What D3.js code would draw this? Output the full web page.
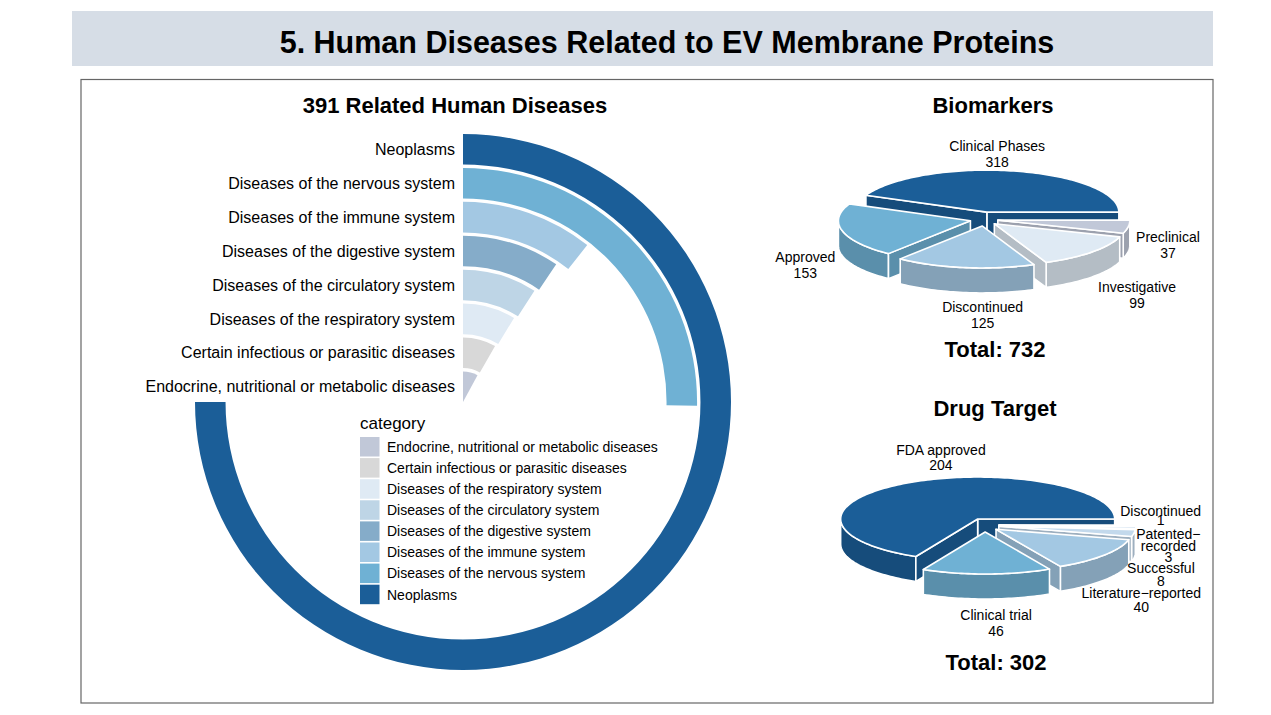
<!DOCTYPE html>
<html>
<head>
<meta charset="utf-8">
<script src="https://cdn.jsdelivr.net/npm/d3@7"></script>
<style>
  body { margin: 0; background: #fff; }
  svg text { font-family: "Liberation Sans", Arial, sans-serif; fill: #000; }
</style>
</head>
<body>
<svg id="chart" width="1271" height="715"></svg>
<script>
// disease categories, innermost ring first
const diseaseCategories = [
  'Endocrine, nutritional or metabolic diseases',
  'Certain infectious or parasitic diseases',
  'Diseases of the respiratory system',
  'Diseases of the circulatory system',
  'Diseases of the digestive system',
  'Diseases of the immune system',
  'Diseases of the nervous system',
  'Neoplasms',
];
const diseaseCounts = [20, 21, 22, 23, 24, 27, 64, 190];
const diseaseColors = ['#c1c8d8', '#d8d8d8', '#dfeaf4', '#bed5e6', '#85acc9', '#a3c8e3', '#6fb1d4', '#1b5e98'];

const biomarkerLabels = ['Clinical Phases', 'Approved', 'Discontinued', 'Investigative', 'Preclinical'];
const biomarkerValues = [318, 153, 125, 99, 37];
const biomarkerColors = ['#1b5e98', '#6fb1d4', '#a3c8e3', '#dfeaf4', '#c1c8d8'];

const drugLabels = ['FDA approved', 'Clinical trial', 'Literature\u2212reported', 'Successful', 'Patented\u2212\nrecorded', 'Discontinued'];
const drugValues = [204, 46, 40, 8, 3, 1];
const drugColors = ['#1b5e98', '#6fb1d4', '#a3c8e3', '#c3d9ec', '#dfeaf4', '#b3d2ec'];

// label tweaks: [dx, dy, line gap]
const biomarkerNudge = [[-26, 5, 15.5], [7, 4, 16], [24, 0, 16], [12, 3, 16], [-5, -10, 16]];
const drugNudge = [[60, -7, 15], [9, 2, 16], [0, 6, 14], [-20, 13, 13], [-15, -8, 11.5], [-23, -35, 9]];

const svg = d3.select('#chart');

// header banner + panel
svg.append('rect')
  .attr('x', 72).attr('y', 11)
  .attr('width', 1141).attr('height', 55)
  .attr('fill', '#d6dde6');
svg.append('text')
  .attr('x', 667).attr('y', 53)
  .attr('text-anchor', 'middle')
  .style('font-size', '30.5px').style('font-weight', 'bold')
  .text('5. Human Diseases Related to EV Membrane Proteins');
svg.append('rect')
  .attr('x', 81).attr('y', 79.5)
  .attr('width', 1132).attr('height', 623.5)
  .attr('fill', 'none')
  .attr('stroke', '#666')
  .attr('stroke-width', 1.2);

const title = (x, y, txt) => svg.append('text')
  .attr('x', x).attr('y', y)
  .attr('text-anchor', 'middle')
  .style('font-size', '22px').style('font-weight', 'bold')
  .text(txt);

// ---- radial bar chart ----
const rc = { cx: 463, cy: 402, r: 268 };
const diseases = diseaseCategories.map((c, i) => ({ cat: c, value: diseaseCounts[i], color: diseaseColors[i] }));

title(455, 113, `${d3.sum(diseaseCounts)} Related Human Diseases`);

const ring = d3.scaleBand()
  .domain(diseaseCategories)
  .range([0, rc.r])
  .paddingInner(0.1);
const angle = d3.scaleLinear()
  .domain([0, d3.max(diseaseCounts) * 4 / 3])
  .range([0, 2 * Math.PI]);

const arc = d3.arc()
  .innerRadius(d => ring(d.cat))
  .outerRadius(d => ring(d.cat) + ring.bandwidth())
  .startAngle(0)
  .endAngle(d => angle(d.value));

const radial = svg.append('g')
  .attr('transform', `translate(${rc.cx},${rc.cy})`);

radial.selectAll('path')
  .data(diseases)
  .enter()
  .append('path')
  .attr('d', arc)
  .attr('fill', d => d.color);

radial.selectAll('text')
  .data(diseases)
  .enter()
  .append('text')
  .attr('x', -8)
  .attr('y', d => -(ring(d.cat) + ring.bandwidth() / 2))
  .attr('dy', '0.35em')
  .attr('text-anchor', 'end')
  .style('font-size', '16px')
  .text(d => d.cat);

// legend
const legend = svg.append('g').attr('transform', 'translate(360,437)');
legend.append('text')
  .attr('x', 0).attr('y', -8)
  .style('font-size', '17px')
  .text('category');
const row = legend.selectAll('g.row')
  .data(diseases)
  .enter()
  .append('g')
  .attr('class', 'row')
  .attr('transform', (d, i) => `translate(0,${i * 21.1})`);
row.append('rect')
  .attr('width', 19.5).attr('height', 19.5)
  .attr('fill', d => d.color);
row.append('text')
  .attr('x', 27).attr('y', 10)
  .attr('dy', '0.35em')
  .style('font-size', '14px')
  .text(d => d.cat);

// ---- 3D pies ----
const pie3d = (labels, values, colors, nudge, o) => {
  const g = svg.append('g');
  const slices = d3.pie().sort(null)(values);
  slices.forEach((s, i) => {
    s.mid = (s.startAngle + s.endAngle) / 2;
    s.ox = o.ex * Math.cos(s.mid);
    s.oy = -o.ey * Math.sin(s.mid);
    s.color = colors[i];
    s.side = d3.color(colors[i]).darker(0.6).formatHex();
    s.i = i;
  });

  const pt = (s, t, r, drop) => [
    o.cx + s.ox + r * o.rx * Math.cos(t),
    o.cy + s.oy - r * o.ry * Math.sin(t) + drop,
  ];
  const arcPts = (s, a0, a1, drop) => {
    const n = Math.max(2, Math.ceil(Math.abs(a1 - a0) * 40));
    return d3.range(n + 1).map(k => pt(s, a0 + (a1 - a0) * k / n, 1, drop));
  };
  const line = d3.line().curve(d3.curveLinearClosed);
  const face = (pts, fill) => g.append('path')
    .attr('d', line(pts))
    .attr('fill', fill)
    .attr('stroke', '#fff')
    .attr('stroke-width', 1.6)
    .attr('stroke-linejoin', 'round');

  // back slices first
  slices.slice()
    .sort((a, b) => Math.sin(b.mid) - Math.sin(a.mid))
    .forEach(s => {
      const a0 = Math.max(s.startAngle, Math.PI);
      const a1 = Math.min(s.endAngle, 2 * Math.PI);
      if (a1 > a0) {
        face(arcPts(s, a0, a1, 0).concat(arcPts(s, a1, a0, o.h)), s.side);
      }
      const wall = t => [pt(s, t, 0, 0), pt(s, t, 1, 0), pt(s, t, 1, o.h), pt(s, t, 0, o.h)];
      if (Math.cos(s.startAngle) > 0) face(wall(s.startAngle), s.side);
      if (Math.cos(s.endAngle) < 0) face(wall(s.endAngle), s.side);
      face([pt(s, 0, 0, 0)].concat(arcPts(s, s.startAngle, s.endAngle, 0)), s.color);
    });

  // labels
  slices.forEach(s => {
    const [dx, dy, gap] = nudge[s.i];
    const lines = labels[s.i].split('\n').concat(String(s.value));
    const lx = o.cx + 1.45 * o.rx * Math.cos(s.mid) + dx;
    const ly = o.cy - 1.7 * o.ry * Math.sin(s.mid) + (Math.sin(s.mid) < 0 ? o.h : 0) + dy;
    const t = g.append('text')
      .attr('text-anchor', 'middle')
      .style('font-size', '14px');
    lines.forEach((l, k) => {
      t.append('tspan')
        .attr('x', lx)
        .attr('y', ly + (k - (lines.length - 1) / 2) * gap)
        .attr('dy', '0.35em')
        .text(l);
    });
  });

  title(o.cx + 11, o.totalY, `Total: ${d3.sum(values)}`);
};

title(993, 113, 'Biomarkers');
pie3d(biomarkerLabels, biomarkerValues, biomarkerColors, biomarkerNudge,
  { cx: 984, cy: 219, rx: 132, ry: 42, h: 25, ex: 14, ey: 7, totalY: 357 });

title(995, 416, 'Drug Target');
pie3d(drugLabels, drugValues, drugColors, drugNudge,
  { cx: 985, cy: 525, rx: 137, ry: 42, h: 25, ex: 14, ey: 7, totalY: 670 });
</script>
</body>
</html>
